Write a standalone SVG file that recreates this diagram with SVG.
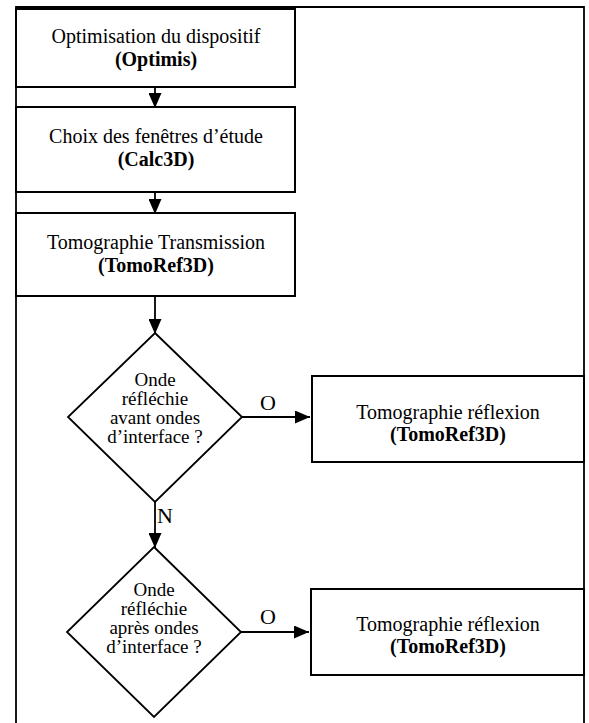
<svg xmlns="http://www.w3.org/2000/svg" width="589" height="723" viewBox="0 0 589 723">
<defs>
<style>
.box{fill:#fff;stroke:#000;stroke-width:2}
.dia{fill:#fff;stroke:#000;stroke-width:1.8}
.frame{fill:none;stroke:#000;stroke-width:1.8}
.t{font-family:"Liberation Serif","Times New Roman",serif;font-size:20px;fill:#000;text-anchor:middle}
.b{font-weight:bold}
.d{font-family:"Liberation Serif","Times New Roman",serif;font-size:19px;fill:#000;text-anchor:middle}
.lab{font-family:"Liberation Serif","Times New Roman",serif;font-size:22px;fill:#000}
.con{fill:none;stroke:#000;stroke-width:1.8}
</style>
<marker id="ah" viewBox="0 0 15 13" refX="15" refY="6.5" markerWidth="15" markerHeight="13" markerUnits="userSpaceOnUse" orient="auto">
<path d="M0,0 L15,6.5 L0,13 Z" fill="#000"/>
</marker>
</defs>
<path class="frame" d="M16,723 V7 H584 V723"/>
<g id="n1">
<rect class="box" x="16" y="9" width="279" height="78"/>
<text class="t" x="156" y="43">Optimisation du dispositif</text>
<text class="t b" x="156" y="66">(Optimis)</text>
</g>
<g id="n2">
<rect class="box" x="16" y="107" width="279" height="85"/>
<text class="t" x="156" y="143">Choix des fenêtres d’étude</text>
<text class="t b" x="156" y="166">(Calc3D)</text>
</g>
<g id="n3">
<rect class="box" x="16" y="213" width="279" height="83"/>
<text class="t" x="156" y="249">Tomographie Transmission</text>
<text class="t b" x="156" y="272">(TomoRef3D)</text>
</g>
<g id="d1">
<path class="dia" d="M155,333 L242,417 L155,502 L68,417 Z"/>
<text class="d" x="155" y="386">Onde</text>
<text class="d" x="155" y="405">réfléchie</text>
<text class="d" x="155" y="424">avant ondes</text>
<text class="d" x="155" y="443">d’interface ?</text>
</g>
<g id="r1">
<rect class="box" x="312" y="376" width="272" height="86"/>
<text class="t" x="448" y="419">Tomographie réflexion</text>
<text class="t b" x="448" y="441">(TomoRef3D)</text>
</g>
<g id="d2">
<path class="dia" d="M154,547 L241,632 L154,717 L67,632 Z"/>
<text class="d" x="154" y="596">Onde</text>
<text class="d" x="154" y="615">réfléchie</text>
<text class="d" x="154" y="634">après ondes</text>
<text class="d" x="154" y="653">d’interface ?</text>
</g>
<g id="r2">
<rect class="box" x="311" y="589" width="273" height="86"/>
<text class="t" x="448" y="631">Tomographie réflexion</text>
<text class="t b" x="448" y="653">(TomoRef3D)</text>
</g>
<g id="connectors">
<path class="con" d="M155,87 V108" marker-end="url(#ah)"/>
<path class="con" d="M155,192 V214" marker-end="url(#ah)"/>
<path class="con" d="M155,296 V334" marker-end="url(#ah)"/>
<path class="con" d="M155,502 V548" marker-end="url(#ah)"/>
<path class="con" d="M242,417 H310" marker-end="url(#ah)"/>
<path class="con" d="M241,632 H309" marker-end="url(#ah)"/>
<text class="lab" x="260" y="410">O</text>
<text class="lab" x="260" y="624">O</text>
<text class="lab" x="157" y="523">N</text>
</g>
</svg>
